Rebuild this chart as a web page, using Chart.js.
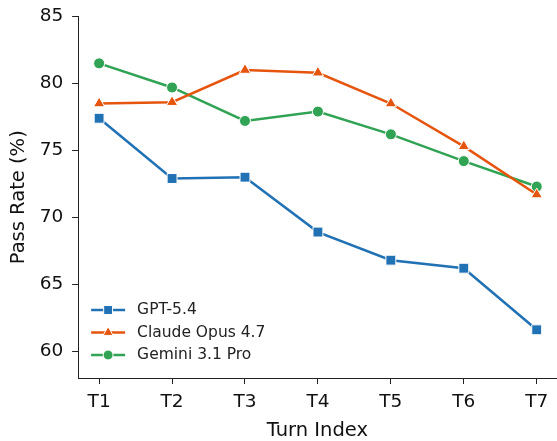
<!DOCTYPE html>
<html>
<head>
<meta charset="utf-8">
<script src="https://cdn.jsdelivr.net/npm/chart.js@4"></script>
<style>
  html, body { margin: 0; padding: 0; background: #fff; }
  #wrap { width: 557px; height: 441px; }
</style>
</head>
<body>
<div id="wrap"><canvas id="chart" width="557" height="441"></canvas></div>
<script>
// Données du graphique
const turns = ['T1', 'T2', 'T3', 'T4', 'T5', 'T6', 'T7'];
const gptValues = [77.4, 72.9, 73.0, 68.9, 66.8, 66.2, 61.6];
const claudeValues = [78.5, 78.6, 81.0, 80.8, 78.5, 75.3, 71.7];
const geminiValues = [81.5, 79.7, 77.2, 77.9, 76.2, 74.2, 72.3];
const yTicks = [60, 65, 70, 75, 80, 85];

const FONT = 'DejaVu Sans';

function toPoints(values) {
    return values.map((v, i) => ({ x: i + 1, y: v }));
}

function makeDataset(label, values, color, shape, radius) {
    return {
        label: label,
        data: toPoints(values),
        borderColor: color,
        backgroundColor: color,
        pointBackgroundColor: color,
        pointBorderColor: '#ffffff',
        pointBorderWidth: 1,
        pointStyle: shape,
        pointRadius: radius,
        borderWidth: 2.5,
        tension: 0
    };
}

const datasets = [
    makeDataset('GPT-5.4', gptValues, '#2171b5', 'rect', 7),
    makeDataset('Claude Opus 4.7', claudeValues, '#e6550d', 'triangle', 6.5),
    makeDataset('Gemini 3.1 Pro', geminiValues, '#31a354', 'circle', 5.5)
];

// Légende dessinée à l'intérieur de la zone du graphique, en bas à gauche
const insideLegend = {
    id: 'insideLegend',
    afterDraw(chart) {
        const ctx = chart.ctx;
        const area = chart.chartArea;
        const x0 = area.left + 13;
        let y = area.bottom - 68;
        ctx.save();
        ctx.textBaseline = 'middle';
        chart.data.datasets.forEach(ds => {
            ctx.strokeStyle = ds.borderColor;
            ctx.lineWidth = 2.5;
            ctx.beginPath();
            ctx.moveTo(x0, y);
            ctx.lineTo(x0 + 34, y);
            ctx.stroke();
            ctx.fillStyle = ds.borderColor;
            ctx.strokeStyle = '#ffffff';
            ctx.lineWidth = 1;
            Chart.helpers.drawPoint(ctx, {
                pointStyle: ds.pointStyle,
                radius: ds.pointRadius * 0.9,
                borderWidth: 1
            }, x0 + 17, y);
            ctx.font = '15.5px ' + FONT;
            ctx.fillStyle = '#222';
            ctx.fillText(ds.label, x0 + 46, y);
            y += 22.5;
        });
        ctx.restore();
    }
};

const config = {
    type: 'line',
    data: { datasets: datasets },
    options: {
        responsive: false,
        animation: false,
        layout: { autoPadding: false, padding: { top: 16.5, right: 0, bottom: 0, left: 7.3 } },
        plugins: {
            legend: { display: false },
            tooltip: { enabled: false }
        },
        scales: {
            x: {
                type: 'linear',
                min: 0.712,
                max: 7.274,
                afterBuildTicks: scale => {
                    scale.ticks = turns.map((t, i) => ({ value: i + 1 }));
                },
                ticks: {
                    callback: (v) => turns[v - 1],
                    color: '#111',
                    font: { family: FONT, size: 18.5, lineHeight: 1.0 },
                    padding: 8.75,
                    maxRotation: 0
                },
                grid: { drawOnChartArea: false, drawTicks: true, tickLength: 6, color: '#222', tickWidth: 1 },
                border: { display: true, color: '#222', width: 1 },
                title: {
                    display: true,
                    text: 'Turn Index',
                    color: '#111',
                    font: { family: FONT, size: 19.5, lineHeight: 1.0 },
                    padding: { top: 1.5, bottom: 0 }
                }
            },
            y: {
                min: 58,
                max: 85,
                afterBuildTicks: scale => {
                    scale.ticks = yTicks.map(v => ({ value: v }));
                },
                ticks: {
                    // espace final pour éloigner le libellé du trait
                    callback: (v) => v + ' ',
                    color: '#111',
                    font: { family: FONT, size: 18.5 },
                    padding: 3
                },
                grid: { drawOnChartArea: false, drawTicks: true, tickLength: 6, color: '#222', tickWidth: 1 },
                border: { display: true, color: '#222', width: 1 },
                title: {
                    display: true,
                    text: 'Pass Rate (%)',
                    color: '#111',
                    font: { family: FONT, size: 19.5 },
                    padding: { top: 0, bottom: 6 }
                }
            }
        }
    },
    plugins: [insideLegend]
};

document.addEventListener('DOMContentLoaded', function() {
    const ctx = document.getElementById('chart').getContext('2d');
    new Chart(ctx, config);
});
</script>
</body>
</html>
